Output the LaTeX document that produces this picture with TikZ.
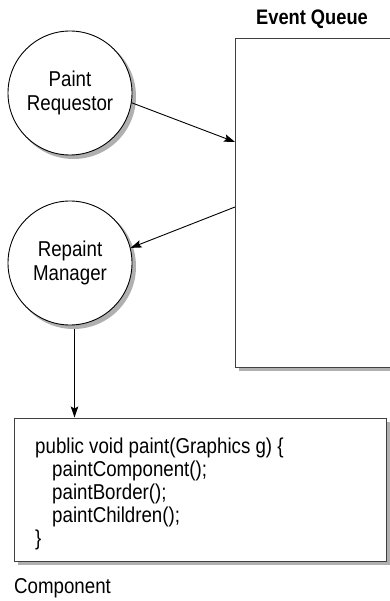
\documentclass[tikz,border=0pt]{standalone}
\usepackage{fontspec}
\setmainfont{Liberation Sans}[FakeStretch=0.87]
\usetikzlibrary{arrows.meta}
\definecolor{shadowgrey}{RGB}{176,176,176}
\tikzset{
  proc/.style={circle,draw=black,line width=0.9pt,fill=white,minimum size=124pt,inner sep=0pt,align=center,font=\fontsize{21.5}{24}\selectfont},
  procshadow/.style={circle,draw=none,fill=shadowgrey,minimum size=125pt,inner sep=0pt},
  boxnode/.style={rectangle,draw=black!75,line width=1pt,fill=white,inner sep=0pt},
  boxshadow/.style={rectangle,draw=none,fill=shadowgrey,inner sep=0pt},
  arr/.style={draw=black,line width=0.9pt,-{Stealth[length=11pt,width=7.5pt,inset=2pt]}},
  lbl/.style={inner sep=0pt,font=\fontsize{21.5}{23}\selectfont}
}
\begin{document}
\begin{tikzpicture}[x=1pt,y=-1pt]
\useasboundingbox (0,0) rectangle (389,601);
\node[boxshadow,minimum width=170pt,minimum height=328pt] (eqs) at (323.5,206.5) {};
\node[procshadow] (prs) at (73.5,96.5) {};
\node[procshadow] (rms) at (73.5,266.5) {};
\node[boxshadow,minimum width=372pt,minimum height=143pt] (comps) at (203.5,493) {};
\node[boxnode,minimum width=170pt,minimum height=328pt] (eq) at (320,203) {};
\node[lbl,font=\bfseries\fontsize{21}{23}\selectfont,anchor=base] (eqlabel) at (312,25) {Event Queue};
\node[proc] (pr) at (70,93) {Paint\\Requestor};
\node[proc] (rm) at (70,263) {Repaint\\Manager};
\node[boxnode,minimum width=372pt,minimum height=143pt] (comp) at (200,489.5) {};
\node[lbl,anchor=north west,align=left] (code) at (35,438) {public void paint(Graphics g) \{\\
\hspace*{17pt}paintComponent();\\
\hspace*{17pt}paintBorder();\\
\hspace*{17pt}paintChildren();\\
\}};
\node[lbl,anchor=base west] (complabel) at (14,593) {Component};
\coordinate (eqin) at (235,142);
\coordinate (eqout) at (235,207);
\coordinate (rmout) at (74.5,329);
\draw[arr] (pr.-9) -- (eqin);
\draw[arr] (eqout) -- (rm.14);
\draw[arr] (rmout) -- (comp.north -| rmout);
\end{tikzpicture}
\end{document}
